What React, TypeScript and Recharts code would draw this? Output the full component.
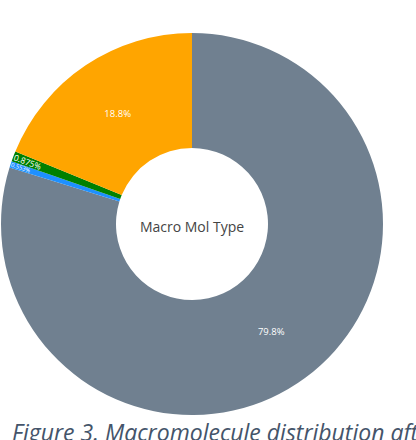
import React from 'react';
import { PieChart, Pie, Cell } from 'recharts';

const categories = ['Protein', 'DNA', 'RNA', 'Hybrid'];
const shares = [79.8, 0.553, 0.875, 18.8];
const shareLabels = ['79.8%', '0.553%', '0.875%', '18.8%'];
const colors = ['#708090', '#1e90ff', '#008000', '#ffa500'];

const chartData = categories.map((name, i) => ({
  name,
  value: shares[i],
  text: shareLabels[i],
}));

const RADIAN = Math.PI / 180;

function SliceLabel(props: any) {
  const { cx, cy, midAngle, innerRadius, outerRadius, percent, index } = props;
  const text = shareLabels[index];
  if (percent > 0.05) {
    const r = (innerRadius + outerRadius) / 2;
    const x = cx + r * Math.cos(-midAngle * RADIAN);
    const y = cy + r * Math.sin(-midAngle * RADIAN);
    return (
      <text x={x} y={y} fill="#fff" fontSize={9.5} textAnchor="middle"
        dominantBaseline="central" fontFamily="'Open Sans', sans-serif">
        {text}
      </text>
    );
  }
  // thin slices: text runs along the radius, near the outer rim
  const arc = percent * 2 * Math.PI * (outerRadius - 12);
  const size = Math.min(8.5, arc * 0.95);
  const r = outerRadius - size * 1.8;
  const x = cx + r * Math.cos(-midAngle * RADIAN);
  const y = cy + r * Math.sin(-midAngle * RADIAN);
  const rot = -(midAngle + 180);
  return (
    <text x={x} y={y} fill="#fff" fontSize={size} textAnchor="middle"
      dominantBaseline="central" fontFamily="'Open Sans', sans-serif"
      transform={`rotate(${rot} ${x} ${y})`}>
      {text}
    </text>
  );
}

export default function App() {
  return (
    <div style={{ position: 'absolute', left: 0, top: 0, width: 416, height: 440, overflow: 'hidden', background: '#fff' }}>
      <PieChart width={416} height={418} margin={{ top: 0, right: 0, bottom: 0, left: 0 }}>
        <Pie
          data={chartData}
          dataKey="value"
          nameKey="name"
          cx={192}
          cy={224}
          innerRadius={76}
          outerRadius={191}
          startAngle={90}
          endAngle={-270}
          stroke="none"
          labelLine={false}
          label={SliceLabel}
          isAnimationActive={false}
        >
          {chartData.map((d, i) => (
            <Cell key={d.name} fill={colors[i]} />
          ))}
        </Pie>
        <text x={192} y={226} textAnchor="middle" dominantBaseline="central"
          fontSize={14} fill="#444" fontFamily="'Open Sans', sans-serif">
          Macro Mol Type
        </text>
      </PieChart>
      <div style={{
        position: 'absolute', left: 12, top: 421, whiteSpace: 'nowrap',
        fontFamily: "'Open Sans', sans-serif", fontStyle: 'italic', fontSize: 23,
        color: '#44546a', lineHeight: '23px',
      }}>
        Figure 3. Macromolecule distribution aft
      </div>
    </div>
  );
}
